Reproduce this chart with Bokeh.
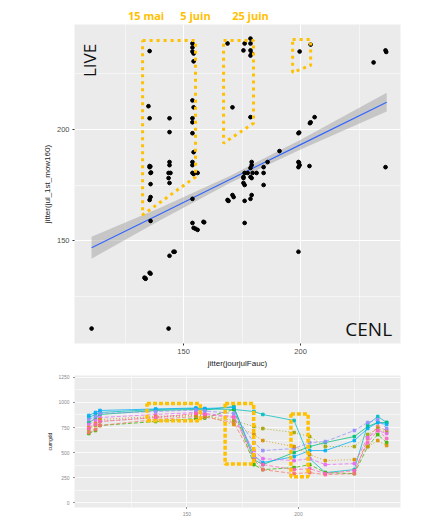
import numpy as np
from bokeh.plotting import figure
from bokeh.layouts import column
from bokeh.models import FixedTicker, Label
from bokeh.embed import file_html
from bokeh.resources import INLINE
from bokeh.core.properties import value

# ---------------- top panel data ----------------
jour_x = [135.5, 153.8, 153.8, 153.8, 154.3, 154.3, 168.8, 176.1, 178.6, 178.6,
          175.6, 178.6, 179.1, 178.6, 199.6, 204.3, 231.2, 236.3, 236.6,
          135.0, 153.8, 154.3, 153.8, 135.5, 144.0, 170.9, 178.6, 206.0, 144.0,
          153.8, 153.8, 204.3, 204.0, 199.1, 199.4, 191.0, 154.3, 153.8, 153.8,
          135.5, 135.8, 135.5, 135.9, 136.1, 144.0, 144.0, 143.6, 144.4, 143.6,
          144.0, 153.8, 156.0, 154.3, 135.9, 135.9, 135.5,
          179.1, 179.1, 178.6, 176.1, 177.4, 179.5, 181.2, 175.6, 175.6, 178.6,
          179.1, 175.6, 176.1, 184.2, 185.9, 184.2, 184.2,
          199.1, 199.3, 199.6, 199.1, 203.8, 236.3, 170.9, 171.4, 168.8, 169.0,
          169.2, 176.1, 179.1, 178.6, 153.8, 135.9, 176.1, 153.8, 158.5, 158.8,
          154.3, 155.1, 156.0, 144.0, 145.7, 146.2, 199.1, 133.3, 133.6, 133.8,
          135.5, 135.9, 110.7, 143.6]
mow_y = [235.0, 238.4, 236.6, 234.8, 233.9, 230.4, 238.4, 238.4, 240.6, 238.4,
         235.3, 235.3, 233.9, 233.0, 234.8, 237.9, 229.9, 235.3, 234.6,
         210.3, 212.9, 209.8, 204.9, 204.9, 204.9, 209.8, 205.4, 205.4, 198.7,
         203.1, 198.2, 203.1, 202.7, 198.2, 198.5, 190.2, 189.7, 185.3, 183.9,
         183.5, 183.3, 183.0, 180.4, 180.6, 185.3, 183.9, 180.4, 180.4, 178.1,
         175.9, 180.4, 180.4, 179.9, 175.4, 169.6, 168.3,
         185.3, 183.9, 182.6, 180.4, 180.4, 180.4, 180.4, 178.6, 178.1, 178.6,
         178.1, 175.9, 175.0, 183.0, 185.3, 180.4, 175.0,
         185.3, 185.0, 183.9, 183.0, 183.5, 183.0, 170.5, 169.6, 168.3, 168.0,
         167.9, 167.9, 170.5, 168.8, 168.8, 158.9, 158.0, 158.0, 158.5, 158.3,
         155.8, 155.4, 154.9, 143.3, 145.1, 145.1, 145.1, 133.5, 133.2, 133.0,
         135.7, 135.3, 110.7, 110.7]

# linear smooth
smooth_x = [110.7, 140.0, 170.0, 200.0, 236.8]
smooth_y = [146.9, 162.0, 177.6, 193.1, 212.1]
smooth_lo = [142.0, 159.2, 176.0, 190.9, 207.9]
smooth_hi = [151.8, 164.8, 179.2, 195.3, 216.3]

# highlighted zones (top)
zone1_x = [132.5, 155.1, 155.1, 132.5, 132.5]
zone1_y = [239.7, 239.7, 178.6, 161.6, 239.7]
zone2_x = [167.1, 179.9, 179.9, 167.1, 167.1]
zone2_y = [239.7, 239.7, 202.7, 193.75, 239.7]
zone3_x = [196.6, 204.3, 204.3, 196.6, 196.6]
zone3_y = [240.2, 240.2, 228.6, 225.4, 240.2]

date_labels = ["15 mai", "5 juin", "25 juin"]
date_pos = [134.0, 155.1, 178.6]

# ---------------- bottom panel data ----------------
days = [106, 109, 111, 136, 154, 158, 171, 180, 184, 198, 205, 212, 225, 231, 235.5, 239.5]
series = {
    "s1": [850, 880, 900, 930, 940, 935, 930, 910, 880, 820, 440, 300, 330, 780, 860, 800],
    "s2": [800, 840, 880, 920, 930, 925, 960, 430, 380, 500, 560, 600, 660, 760, 800, 800],
    "s3": [690, 720, 770, 810, 840, 845, 930, 380, 330, 350, 380, 300, 290, 560, 680, 600],
    "s4": [700, 730, 770, 830, 860, 855, 800, 430, 330, 290, 300, 280, 290, 640, 760, 720],
    "s5": [730, 770, 810, 850, 870, 865, 820, 760, 740, 700, 660, 560, 560, 680, 740, 700],
    "s6": [870, 900, 920, 935, 945, 940, 950, 470, 400, 460, 520, 520, 620, 740, 800, 780],
    "s7": [780, 820, 850, 880, 900, 890, 860, 520, 440, 420, 440, 380, 390, 650, 720, 690],
    "s8": [830, 860, 890, 910, 925, 915, 890, 600, 520, 540, 600, 610, 720, 800, 830, 740],
    "s9": [750, 790, 830, 860, 880, 870, 780, 680, 620, 560, 480, 420, 430, 560, 620, 570],
    "s10": [740, 780, 810, 850, 890, 880, 850, 470, 380, 330, 340, 290, 320, 600, 720, 640],
}
series_colors = {"s1": "#00BFC4", "s2": "#00BF7D", "s3": "#39B600", "s4": "#F8766D",
                 "s5": "#A3A500", "s6": "#00B0F6", "s7": "#E76BF3", "s8": "#9590FF",
                 "s9": "#D89000", "s10": "#FF62BC"}
series_dash = {"s1": "solid", "s2": "solid", "s3": "4 2", "s4": "4 2", "s5": "1 2",
               "s6": "solid", "s7": "4 2", "s8": "4 2", "s9": "1 2", "s10": "4 2"}

zoneA = ([132.1, 156.0, 156.0, 132.1, 132.1], [990, 990, 817, 817, 990])
zoneB = ([167.1, 179.9, 179.9, 167.1, 167.1], [990, 990, 385, 385, 990])
zoneC = ([196.6, 204.3, 204.3, 196.6, 196.6], [885, 885, 260, 260, 885])

GOLD = "#FFC000"
FONT = "Liberation Sans"


def style(p, xt, xm, yt, ym, tick_size, lab_size, tick_color):
    p.background_fill_color = "#EBEBEB"
    p.border_fill_color = "white"
    p.outline_line_color = None
    p.xaxis.ticker = FixedTicker(ticks=xt, minor_ticks=xm)
    p.yaxis.ticker = FixedTicker(ticks=yt, minor_ticks=ym)
    for g in (p.xgrid, p.ygrid):
        g.grid_line_color = "white"
        g.grid_line_width = 1.1
        g.minor_grid_line_color = "white"
        g.minor_grid_line_width = 0.5
    for a in (p.xaxis, p.yaxis):
        a.axis_line_color = None
        a.major_tick_line_color = "#333333"
        a.major_tick_out = 2
        a.major_tick_in = 0
        a.minor_tick_line_color = None
        a.major_label_text_font = FONT
        a.major_label_text_font_size = tick_size
        a.major_label_text_color = tick_color
        a.major_label_standoff = 1
        a.axis_label_text_font = FONT
        a.axis_label_text_font_size = lab_size
        a.axis_label_text_font_style = "normal"
        a.axis_label_text_color = "#222222"
        a.axis_label_standoff = 2


X_RANGE_TOP = (103.4, 242.7)

# ---------------- header strip with the date annotations ----------------
p0 = figure(width=423, height=24, x_range=X_RANGE_TOP, y_range=(0, 1),
            output_backend="svg", toolbar_location=None,
            x_axis_location=None, y_axis_location=None,
            min_border_left=74, min_border_right=23, min_border_top=0, min_border_bottom=0)
p0.outline_line_color = None
p0.background_fill_color = "white"
p0.border_fill_color = "white"
p0.grid.visible = False
p0.text(x=date_pos, y=[0.36] * len(date_pos), text=date_labels,
        text_font=value("Open Sans"), text_font_size="11px", text_font_style="bold",
        text_color=GOLD, text_align="center", text_baseline="middle")

# ---------------- top figure ----------------
p1 = figure(width=423, height=346, x_range=X_RANGE_TOP, y_range=(104.0, 246.9),
            output_backend="svg", toolbar_location=None,
            min_border_left=74, min_border_right=23, min_border_top=0, min_border_bottom=26)
style(p1, [150, 200], [125, 175, 225], [150, 200], [125, 175, 225], "7.5px", "8px", "#4D4D4D")
p1.xaxis.axis_label = "jitter(jourjulFauc)"
p1.yaxis.axis_label = "jitter(jul_1st_mow160)"

p1.varea(x=smooth_x, y1=smooth_lo, y2=smooth_hi, fill_color="#999999", fill_alpha=0.45)
p1.line(smooth_x, smooth_y, line_color="#3366FF", line_width=1.2)
p1.scatter(jour_x, mow_y, size=3.7, color="black")

for zx, zy in ((zone1_x, zone1_y), (zone2_x, zone2_y), (zone3_x, zone3_y)):
    p1.line(zx, zy, line_color=GOLD, line_width=3, line_dash="3 4")

p1.add_layout(Label(x=109.8, y=230.8, text="LIVE", angle=np.pi / 2, text_font="Open Sans",
                    text_font_size="17px", text_color="#111111", text_align="center",
                    text_baseline="middle"))
p1.add_layout(Label(x=229.1, y=110.3, text="CENL", text_font="Open Sans",
                    text_font_size="19px", text_color="#111111", text_align="center",
                    text_baseline="middle"))

# ---------------- bottom figure ----------------
p2 = figure(width=423, height=148, x_range=(99.6, 245.7), y_range=(-48, 1269),
            output_backend="svg", toolbar_location=None,
            min_border_left=65, min_border_right=16, min_border_top=5, min_border_bottom=6)
style(p2, [150, 200], [125, 175, 225], [0, 250, 500, 750, 1000, 1250],
      [125, 375, 625, 875, 1125], "5px", "5px", "#8A8A8A")
p2.yaxis.axis_label = "cumgdd"
p2.xaxis.major_tick_out = 1
p2.yaxis.major_tick_out = 1
p2.xaxis.major_label_standoff = 0
p2.xgrid.grid_line_width = 0.8
p2.ygrid.grid_line_width = 0.8

for key, vals in series.items():
    p2.line(days, vals, line_color=series_colors[key], line_width=0.9, line_alpha=0.85,
            line_dash=series_dash[key])
    p2.scatter(days, vals, size=2.6, marker="square", color=series_colors[key], alpha=0.9)

for zx, zy in (zoneA, zoneB, zoneC):
    p2.line(zx, zy, line_color=GOLD, line_width=3.5, line_dash="4 2")

layout = column(p0, p1, p2, spacing=0)
open("out.html", "w").write(file_html(layout, INLINE))
